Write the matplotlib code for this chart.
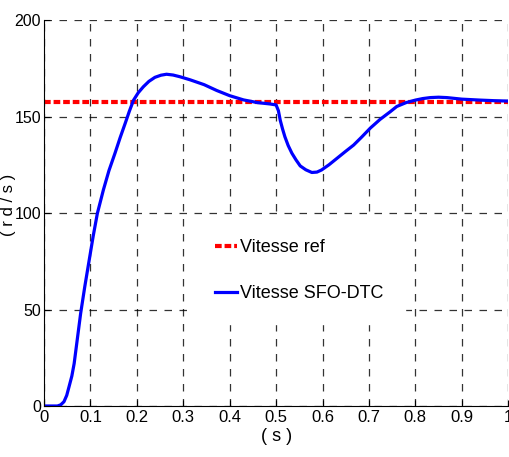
import numpy as np
import matplotlib
matplotlib.use("Agg")
import matplotlib.pyplot as plt

# reference speed (rad/s)
t_ref = [0.0, 1.0]
w_ref = [157.4, 157.4]

t_mes = [0, 0.015, 0.029, 0.036, 0.043, 0.049, 0.054, 0.06, 0.065, 0.072, 0.079,
         0.088, 0.097, 0.106, 0.115, 0.128, 0.14, 0.153, 0.164, 0.175, 0.184,
         0.193, 0.203, 0.214, 0.226, 0.239, 0.252, 0.264, 0.278, 0.293, 0.315,
         0.345, 0.372, 0.4, 0.43, 0.46, 0.487, 0.5, 0.505, 0.509, 0.514, 0.519,
         0.526, 0.534, 0.543, 0.552, 0.564, 0.577, 0.588, 0.598, 0.614, 0.631,
         0.649, 0.667, 0.685, 0.703, 0.724, 0.746, 0.76, 0.78, 0.8, 0.816,
         0.832, 0.85, 0.868, 0.9, 0.94, 0.97, 1.0]
w_mes = [0, 0, 0, 0.6, 2.2, 5.5, 10, 15.5, 22, 35, 48,
         62, 75, 88, 99.8, 112, 122, 131, 139, 146.5, 152.8,
         158.5, 162.3, 165.4, 168.2, 170.3, 171.4, 171.9, 171.5, 170.6, 169,
         166.5, 163.5, 160.8, 158.6, 157.2, 156.5, 156, 153, 148, 143.5, 139.5,
         135, 131, 127.5, 124.4, 122.4, 121, 121.2, 122.3, 125, 128.3,
         131.8, 135.2, 139.5, 144, 148.5, 152.5, 155.2, 157.2, 158.5, 159.3,
         159.8, 160, 159.8, 159, 158.5, 158.2, 158]

xticks = [0, 0.1, 0.2, 0.3, 0.4, 0.5, 0.6, 0.7, 0.8, 0.9, 1]
xlabels = ["0", "0.1", "0.2", "0.3", "0.4", "0.5", "0.6", "0.7", "0.8", "0.9", "1"]
yticks = [0, 50, 100, 150, 200]

plt.rcParams['font.family'] = ['Liberation Sans Narrow', 'Liberation Sans', 'DejaVu Sans']

fig = plt.figure(figsize=(5.09, 4.57), dpi=100)
ax = fig.add_axes([0.0864, 0.1116, 0.912, 0.8446])

ax.plot(t_ref, w_ref, color='red', linestyle=(0, (1.6, 0.7)), linewidth=3, label='Vitesse ref')
ax.plot(t_mes, w_mes, color='blue', linewidth=2.3, label='Vitesse SFO-DTC')

ax.set_xlim(0, 1)
ax.set_ylim(0, 200)
ax.set_xticks(xticks)
ax.set_xticklabels(xlabels)
ax.set_yticks(yticks)
ax.tick_params(direction='in', length=4, labelsize=12, pad=3)
ax.tick_params(axis='y', labelsize=11.5, pad=2)
ax.grid(True, color='black', linestyle=(0, (6, 6)), linewidth=0.9, alpha=0.8)
ax.spines['top'].set_visible(False)
ax.spines['right'].set_visible(False)

ax.set_xlabel('( s )', fontsize=13, labelpad=2)
ax.set_ylabel('( r d / s )', fontsize=12)
ax.yaxis.set_label_coords(-0.06, 0.52)

leg = ax.legend(loc='center', bbox_to_anchor=(0.55, 0.35), fontsize=13,
                frameon=True, facecolor='white', edgecolor='white', framealpha=1,
                handlelength=1.2, handletextpad=0.2, labelspacing=1.6,
                borderpad=1.2, fancybox=False)

fig.savefig('out.png', dpi=100)
